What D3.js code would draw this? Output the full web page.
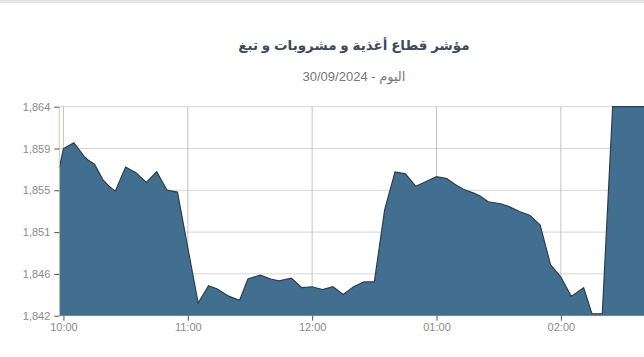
<!DOCTYPE html>
<html>
<head>
<meta charset="utf-8">
<script src="https://cdn.jsdelivr.net/npm/d3@7"></script>
<style>
  html, body { margin: 0; padding: 0; background: #fff; overflow: hidden; }
  svg { display: block; font-family: "Liberation Sans", "DejaVu Sans", Arial, sans-serif; }
</style>
</head>
<body>
<div id="chart"></div>
<script>
// Chart text
const title = "مؤشر قطاع أغذية و مشروبات و تبغ";
const subtitle = "اليوم - 30/09/2024";

// Intraday index readings (time, value)
const times = [
  "09:58", "10:00", "10:05", "10:10", "10:12", "10:15", "10:19", "10:22", "10:25", "10:30",
  "10:35", "10:40", "10:45", "10:50", "10:55", "11:05", "11:10", "11:14", "11:20", "11:25",
  "11:29", "11:35", "11:40", "11:44", "11:50", "11:55", "12:00", "12:05", "12:10", "12:15",
  "12:20", "12:25", "12:30", "12:35", "12:40", "12:45", "12:50", "12:55", "13:00", "13:05",
  "13:09", "13:13", "13:18", "13:21", "13:25", "13:31", "13:35", "13:40", "13:45", "13:50",
  "13:55", "14:00", "14:05", "14:11", "14:15", "14:20", "14:25", "15:10"
];
const values = [
  1857.3, 1859.3, 1859.9, 1858.5, 1858.1, 1857.7, 1856.1, 1855.4, 1854.9, 1857.4,
  1856.8, 1855.8, 1856.9, 1855.0, 1854.8, 1843.3, 1845.1, 1844.8, 1844.0, 1843.6,
  1845.8, 1846.2, 1845.8, 1845.6, 1845.9, 1844.9, 1845.0, 1844.7, 1845.0, 1844.2,
  1845.0, 1845.5, 1845.5, 1853.0, 1856.9, 1856.7, 1855.4, 1855.9, 1856.4, 1856.2,
  1855.6, 1855.1, 1854.7, 1854.4, 1853.8, 1853.6, 1853.3, 1852.8, 1852.4, 1851.4,
  1847.3, 1846.0, 1844.0, 1844.9, 1842.2, 1842.2, 1863.65, 1863.65
];

// Axis settings
const yMin = 1842, yMax = 1863.65;
const xTickTimes = ["10:00", "11:00", "12:00", "13:00", "14:00"];
const xStart = "09:58", xEnd = "15:10";

const width = 644, height = 357;
const margin = { top: 106.7, left: 59.3, bottom: 41.3 };
const parse = d3.timeParse("%H:%M");

const data = times.map((t, i) => ({ t: parse(t), v: values[i] }));

const svg = d3.select("#chart").append("svg")
    .attr("width", width)
    .attr("height", height);

// thin band on top of the page
svg.append("rect")
    .attr("x", 0).attr("y", 0)
    .attr("width", width).attr("height", 3)
    .attr("fill", "#e3e3e8");

const x = d3.scaleTime()
    .domain([parse(xStart), parse(xEnd)])
    .range([margin.left, 63.3 + 310 * 2.073]);

const y = d3.scaleLinear()
    .domain([yMin, yMax])
    .range([height - margin.bottom, margin.top]);

const yTicks = d3.range(6).map(i => yMin + i * (yMax - yMin) / 5);
const fmt = d3.format(",.0f");

// Titles
svg.append("text")
    .attr("x", 354).attr("y", 50)
    .attr("text-anchor", "middle")
    .attr("direction", "rtl")
    .style("font-size", "13.5px")
    .style("font-weight", "bold")
    .style("fill", "#3d4b5c")
    .text(title);

svg.append("text")
    .attr("x", 354).attr("y", 81)
    .attr("text-anchor", "middle")
    .attr("direction", "rtl")
    .style("font-size", "13px")
    .style("fill", "#777")
    .text(subtitle);

// Horizontal grid
svg.append("g")
    .selectAll("line")
    .data(yTicks)
    .enter().append("line")
    .attr("x1", margin.left).attr("x2", width)
    .attr("y1", d => y(d)).attr("y2", d => y(d))
    .attr("stroke", "#d6d6d6")
    .attr("stroke-width", 1);

// Vertical grid
svg.append("g")
    .selectAll("line")
    .data(xTickTimes.map(parse))
    .enter().append("line")
    .attr("x1", d => x(d)).attr("x2", d => x(d))
    .attr("y1", margin.top).attr("y2", y(yMin))
    .attr("stroke", "#c4c4c4")
    .attr("stroke-width", 1);

// Area + line
const area = d3.area()
    .x(d => x(d.t))
    .y0(y(yMin))
    .y1(d => y(d.v));

const line = d3.line()
    .x(d => x(d.t))
    .y(d => y(d.v));

svg.append("path")
    .datum(data)
    .attr("d", area)
    .attr("fill", "#426f8f");

svg.append("path")
    .datum(data)
    .attr("d", line)
    .attr("fill", "none")
    .attr("stroke", "#2c3e4e")
    .attr("stroke-width", 1.2);

// Left border of the plot
svg.append("line")
    .attr("x1", margin.left).attr("x2", margin.left)
    .attr("y1", margin.top).attr("y2", y(yMin))
    .attr("stroke", "#cfcba8")
    .attr("stroke-width", 1);

// Y axis
const yAxis = svg.append("g")
    .attr("transform", `translate(${margin.left},0)`)
    .call(d3.axisLeft(y).tickValues(yTicks).tickFormat(fmt).tickSize(5).tickPadding(4));
yAxis.select(".domain").remove();
yAxis.selectAll(".tick line").attr("stroke", "#555");
yAxis.selectAll("text")
    .style("font-size", "11px")
    .style("fill", "#8a8a8a");

// X axis
const xAxis = svg.append("g")
    .attr("transform", `translate(0,${y(yMin)})`)
    .call(d3.axisBottom(x)
        .tickValues(xTickTimes.map(parse))
        .tickFormat(d3.timeFormat("%I:%M"))
        .tickSize(5).tickPadding(3));
xAxis.select(".domain").remove();
xAxis.selectAll(".tick line").attr("stroke", "#555");
xAxis.selectAll("text")
    .style("font-size", "11px")
    .style("fill", "#8a8a8a");
</script>
</body>
</html>
